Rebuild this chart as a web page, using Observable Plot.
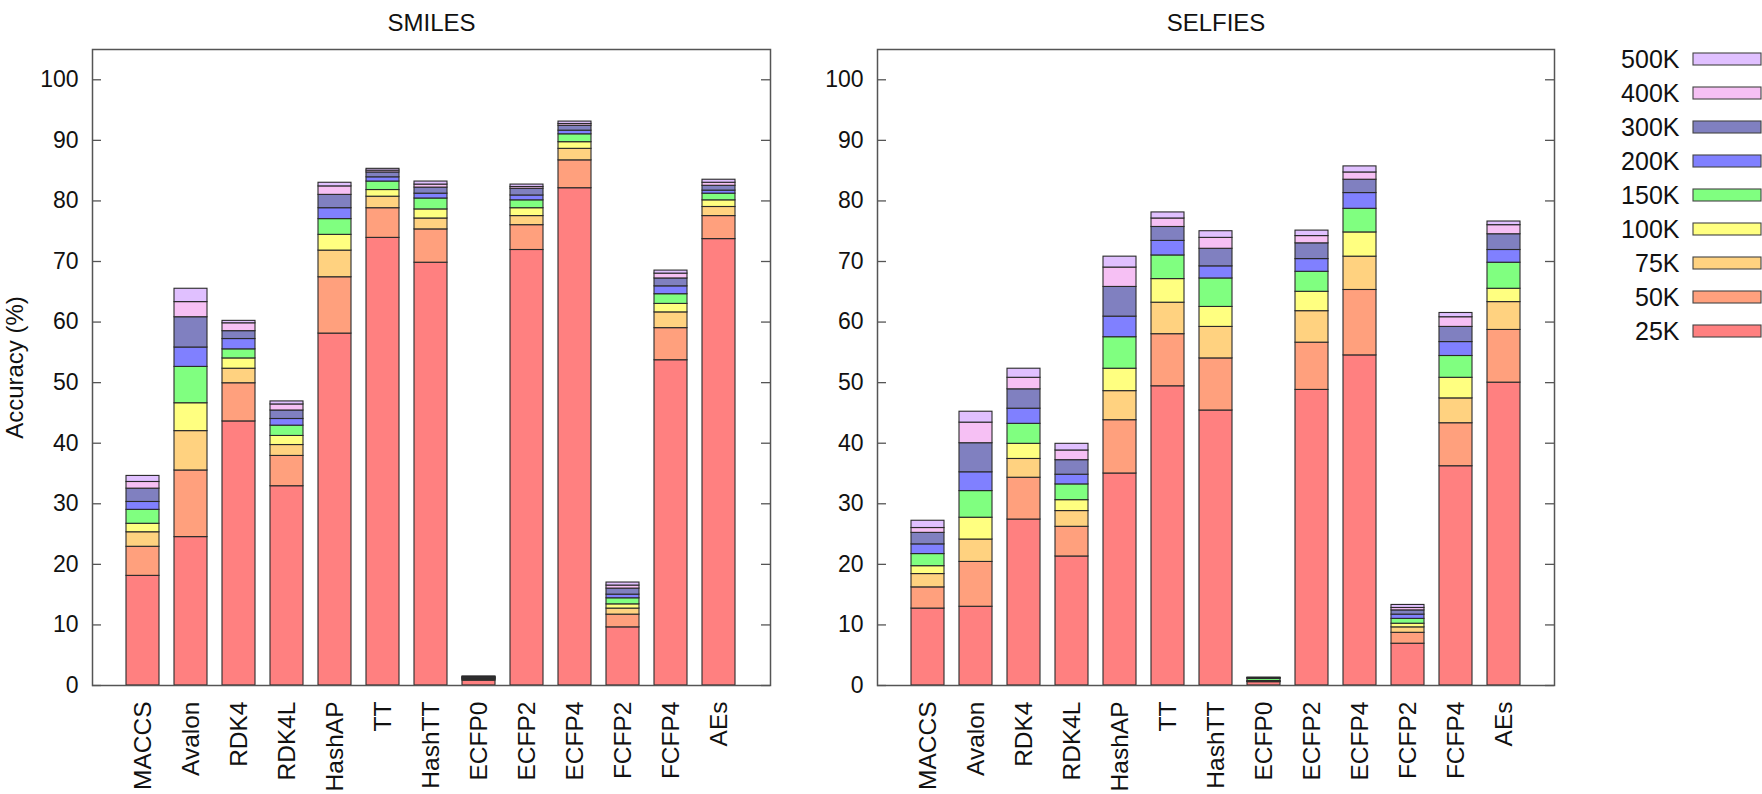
<!DOCTYPE html>
<html>
<head>
<meta charset="utf-8">
<script src="https://cdn.jsdelivr.net/npm/d3@7"></script>
<script src="https://cdn.jsdelivr.net/npm/@observablehq/plot@0.6"></script>
<style>
  html, body { margin: 0; padding: 0; background: #fff; }
  #page { position: relative; width: 1762px; height: 794px; overflow: hidden; background: #fff; }
  .panel { position: absolute; top: 0; }
  svg { overflow: visible; }
</style>
</head>
<body>
<div id="page">
  <div id="left" class="panel" style="left:0px"></div>
  <div id="right" class="panel" style="left:780px"></div>
  <div id="legend" class="panel" style="left:1580px"></div>
</div>
<script>
// ---- data ----
const categories = ["MACCS", "Avalon", "RDK4", "RDK4L", "HashAP", "TT", "HashTT", "ECFP0", "ECFP2", "ECFP4", "FCFP2", "FCFP4", "AEs"];
const sizes = ["25K", "50K", "75K", "100K", "150K", "200K", "300K", "400K", "500K"];
const sizeColors = ["#ff8080", "#ffa07d", "#ffd280", "#ffff80", "#80ff80", "#8080ff", "#8080c0", "#f6c0f4", "#e0c0ff"];
const yTicks = [0, 10, 20, 30, 40, 50, 60, 70, 80, 90, 100];

// accuracy (%) reached with each training-set size — SMILES
const smiles25K  = [18.1, 24.5, 43.6, 32.9, 58.1, 73.9, 69.8, 0.8,  71.9, 82.1, 9.6,  53.7, 73.7];
const smiles50K  = [22.9, 35.5, 49.9, 37.9, 67.4, 78.8, 75.3, 0.95, 76.0, 86.7, 11.7, 59.0, 77.5];
const smiles75K  = [25.3, 42.0, 52.3, 39.7, 71.8, 80.7, 77.1, 1.0,  77.5, 88.6, 12.7, 61.6, 79.0];
const smiles100K = [26.7, 46.6, 54.0, 41.2, 74.4, 81.8, 78.6, 1.1,  78.8, 89.7, 13.4, 63.0, 80.1];
const smiles150K = [29.0, 52.6, 55.5, 42.9, 77.0, 83.2, 80.4, 1.15, 80.1, 91.0, 14.4, 64.6, 81.2];
const smiles200K = [30.3, 55.8, 57.2, 44.0, 78.8, 83.9, 81.2, 1.25, 80.9, 91.6, 15.0, 65.9, 81.7];
const smiles300K = [32.5, 60.8, 58.5, 45.4, 81.0, 84.7, 82.2, 1.3,  82.0, 92.4, 16.0, 67.2, 82.5];
const smiles400K = [33.6, 63.3, 59.8, 46.4, 82.4, 85.0, 82.7, 1.4,  82.3, 92.7, 16.5, 68.0, 83.0];
const smiles500K = [34.6, 65.5, 60.2, 46.9, 83.0, 85.3, 83.2, 1.5,  82.7, 93.1, 17.0, 68.5, 83.5];

// accuracy (%) reached with each training-set size — SELFIES
const selfies25K  = [12.7, 13.0, 27.4, 21.3, 35.0, 49.4, 45.4, 0.55, 48.8, 54.5, 6.9,  36.2, 50.0];
const selfies50K  = [16.2, 20.4, 34.3, 26.2, 43.8, 58.0, 54.0, 0.6,  56.6, 65.3, 8.7,  43.3, 58.7];
const selfies75K  = [18.4, 24.1, 37.4, 28.8, 48.6, 63.2, 59.2, 0.65, 61.8, 70.8, 9.6,  47.4, 63.3];
const selfies100K = [19.7, 27.7, 39.9, 30.6, 52.3, 67.1, 62.5, 0.75, 65.0, 74.8, 10.2, 50.8, 65.5];
const selfies150K = [21.7, 32.1, 43.2, 33.2, 57.5, 71.0, 67.2, 1.1,  68.3, 78.7, 11.0, 54.4, 69.8];
const selfies200K = [23.3, 35.2, 45.7, 34.8, 60.9, 73.4, 69.2, 1.15, 70.4, 81.3, 11.7, 56.7, 71.9];
const selfies300K = [25.2, 40.0, 48.9, 37.2, 65.8, 75.7, 72.1, 1.2,  73.0, 83.5, 12.4, 59.2, 74.5];
const selfies400K = [26.0, 43.4, 50.8, 38.8, 69.0, 77.1, 73.9, 1.25, 74.2, 84.7, 12.8, 60.8, 76.0];
const selfies500K = [27.2, 45.2, 52.3, 39.9, 70.8, 78.1, 75.0, 1.3,  75.1, 85.7, 13.3, 61.5, 76.6];

const smilesSeries  = [smiles25K, smiles50K, smiles75K, smiles100K, smiles150K, smiles200K, smiles300K, smiles400K, smiles500K];
const selfiesSeries = [selfies25K, selfies50K, selfies75K, selfies100K, selfies150K, selfies200K, selfies300K, selfies400K, selfies500K];

// ---- build segment table (each size's band sits between the previous size's accuracy and its own) ----
function segments(series) {
  const rows = [];
  series.forEach((vals, i) => {
    vals.forEach((v, j) => {
      rows.push({cat: categories[j], size: sizes[i], lo: i === 0 ? 0 : series[i - 1][j], hi: v});
    });
  });
  return rows;
}

const FONT = "'Liberation Sans', Arial, Helvetica, sans-serif";
const AXIS = "#555";

function panel(title, series, opts) {
  const frameW = opts.width - opts.marginLeft - opts.marginRight;
  const marks = [
    Plot.barY(segments(series), {
      x: "cat", y1: "lo", y2: "hi", fill: "size",
      stroke: "#2a2a2a", strokeWidth: 1.1
    }),
    Plot.frame({stroke: AXIS, strokeWidth: 1.5}),
    // inward tick marks on both sides of the frame
    Plot.ruleY(yTicks, {y: d => d, insetRight: frameW - 9, stroke: AXIS, strokeWidth: 1.3}),
    Plot.ruleY(yTicks, {y: d => d, insetLeft: frameW - 9, stroke: AXIS, strokeWidth: 1.3}),
    Plot.text([title], {frameAnchor: "top", dy: -36, fontSize: 24, fill: "#111"})
  ];
  if (opts.ylabel) {
    marks.push(Plot.text([opts.ylabel], {frameAnchor: "left", textAnchor: "middle", rotate: -90, dx: -77, fontSize: 24, fill: "#111"}));
  }
  const svg = Plot.plot({
    width: opts.width,
    height: 794,
    marginLeft: opts.marginLeft,
    marginRight: opts.marginRight,
    marginTop: 49,
    marginBottom: 109,
    style: {fontFamily: FONT, fontSize: "23px", color: "#111", background: "transparent", overflow: "visible"},
    x: {domain: categories, paddingInner: 0.31, paddingOuter: 0.655, tickRotate: -90, tickSize: 0, tickPadding: 16, label: null},
    y: {domain: [0, 105], ticks: yTicks, tickSize: 0, tickPadding: 14, label: null},
    color: {domain: sizes, range: sizeColors},
    marks
  });
  // slightly larger category labels, as in the original
  svg.querySelectorAll('[aria-label="x-axis"] text, [aria-label="x-axis tick label"] text').forEach(t => t.style.fontSize = "24.5px");
  return svg;
}

document.getElementById("left").appendChild(
  panel("SMILES", smilesSeries, {width: 780, marginLeft: 92, marginRight: 10, ylabel: "Accuracy (%)"})
);
document.getElementById("right").appendChild(
  panel("SELFIES", selfiesSeries, {width: 800, marginLeft: 97, marginRight: 26})
);

// legend: top entry is the largest size
const legendOrder = sizes.slice().reverse();
document.getElementById("legend").appendChild(
  Plot.plot({
    width: 182,
    height: 360,
    marginLeft: 113,
    marginRight: 1,
    marginTop: 42,
    marginBottom: 12,
    style: {fontFamily: FONT, fontSize: "25px", color: "#111", background: "transparent", overflow: "visible"},
    y: {domain: legendOrder, padding: 0, tickSize: 0, tickPadding: 14, label: null},
    color: {domain: sizes, range: sizeColors},
    marks: [
      Plot.cell(legendOrder, {y: d => d, fill: d => d, stroke: "#444", strokeWidth: 1.1, insetTop: 11, insetBottom: 11})
    ]
  })
);
</script>
</body>
</html>
